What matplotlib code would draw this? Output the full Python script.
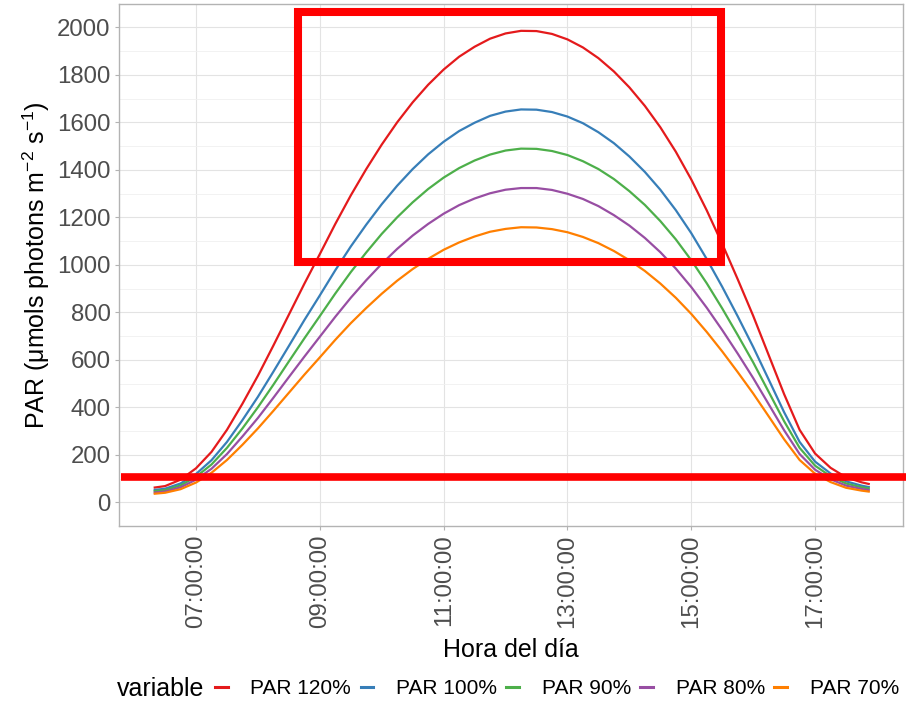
import matplotlib
matplotlib.use("Agg")
import matplotlib.pyplot as plt
from matplotlib.patches import Rectangle
from matplotlib.ticker import FixedLocator, MultipleLocator

plt.rcParams['font.family'] = ['Liberation Sans', 'DejaVu Sans']
plt.rcParams['mathtext.default'] = 'regular'

# hora del día (HH:MM) y PAR por tratamiento
horas = ["06:20", "06:30", "06:45",
         "07:00", "07:15", "07:30", "07:45", "08:00", "08:15", "08:30", "08:45",
         "09:00", "09:15", "09:30", "09:45", "10:00", "10:15", "10:30", "10:45",
         "11:00", "11:15", "11:30", "11:45", "12:00", "12:15", "12:30", "12:45",
         "13:00", "13:15", "13:30", "13:45", "14:00", "14:15", "14:30", "14:45",
         "15:00", "15:15", "15:30", "15:45", "16:00", "16:15", "16:30", "16:45",
         "17:00", "17:15", "17:30", "17:45", "17:52"]

par_120 = [62, 68, 95,
           143, 212, 305, 415, 533, 660, 790, 920,
           1045, 1172, 1292, 1403, 1506, 1600, 1684, 1758,
           1822, 1876, 1918, 1952, 1974, 1985, 1984, 1972,
           1949, 1915, 1870, 1814, 1747, 1669, 1579, 1476,
           1359, 1229, 1088, 939, 785, 620, 455, 305,
           205, 145, 105, 84, 77]
par_100 = [52, 57, 79,
           119, 177, 254, 346, 444, 550, 658, 767,
           871, 977, 1077, 1169, 1255, 1333, 1403, 1465,
           1518, 1563, 1598, 1627, 1645, 1654, 1653, 1643,
           1624, 1596, 1558, 1512, 1456, 1391, 1316, 1230,
           1133, 1024, 907, 783, 654, 517, 379, 254,
           171, 121, 88, 70, 64]
par_90 = [47, 51, 71,
          107, 159, 229, 311, 400, 495, 593, 690,
          784, 879, 969, 1052, 1130, 1200, 1263, 1319,
          1367, 1407, 1439, 1464, 1481, 1489, 1488, 1479,
          1462, 1436, 1403, 1361, 1310, 1252, 1184, 1107,
          1019, 922, 816, 704, 589, 465, 341, 229,
          154, 109, 79, 63, 58]
par_80 = [41, 45, 63,
          95, 141, 203, 277, 355, 440, 527, 613,
          697, 781, 861, 935, 1004, 1067, 1123, 1172,
          1215, 1251, 1279, 1301, 1316, 1323, 1323, 1315,
          1299, 1277, 1247, 1209, 1165, 1113, 1053, 984,
          906, 819, 725, 626, 523, 413, 303, 203,
          137, 97, 70, 56, 51]
par_70 = [36, 40, 55,
          83, 124, 178, 242, 311, 385, 461, 537,
          610, 684, 754, 818, 878, 933, 982, 1025,
          1063, 1094, 1119, 1139, 1151, 1158, 1157, 1150,
          1137, 1117, 1091, 1058, 1019, 974, 921, 861,
          793, 717, 635, 548, 458, 362, 265, 178,
          120, 85, 61, 49, 45]

series = [("PAR 120%", par_120, "#E41A1C"),
          ("PAR 100%", par_100, "#377EB8"),
          ("PAR 90%", par_90, "#4DAF4A"),
          ("PAR 80%", par_80, "#984EA3"),
          ("PAR 70%", par_70, "#FF7F00")]

t = [int(h[:2]) + int(h[3:]) / 60 for h in horas]

fig = plt.figure(figsize=(9.06, 7.06), dpi=100)
ax = fig.add_axes([119 / 906, 180 / 706, 784 / 906, 522 / 706])

for nombre, valores, color in series:
    ax.plot(t, valores, color=color, lw=1.6, label=nombre, solid_joinstyle='round')

ax.set_xlim(5.756, 18.42)
ax.set_ylim(-100, 2098)

horas_eje = [7, 9, 11, 13, 15, 17]
ax.xaxis.set_major_locator(FixedLocator(horas_eje))
ax.set_xticklabels(["%02d:00:00" % h for h in horas_eje], rotation=90, va='top')
ax.yaxis.set_major_locator(MultipleLocator(200))
ax.yaxis.set_minor_locator(MultipleLocator(100))

ax.grid(which='major', color='#E3E3E3', lw=0.8)
ax.grid(which='minor', axis='y', color='#F0F0F0', lw=0.6)
ax.set_axisbelow(True)
for s in ax.spines.values():
    s.set_color('#B3B3B3')
    s.set_linewidth(1.0)

ax.tick_params(which='major', length=3, width=0.8, color='#B3B3B3',
               labelsize=17.3, labelcolor='#4D4D4D', pad=3)
ax.tick_params(which='minor', length=0)

ax.set_xlabel("Hora del día", fontsize=18, labelpad=7)
ax.set_ylabel(r"PAR (μmols photons m$^{-2}$ s$^{-1}$)", fontsize=18, labelpad=4)

# recuadro y umbral en rojo
ax.add_patch(Rectangle((8.653, 1010), 15.48 - 8.653, 2064 - 1010, fill=False,
                       edgecolor='#FF0000', lw=5.8, joinstyle='miter', clip_on=False,
                       zorder=5))
ax.plot([0.003, 1.01], [106, 106], color='#FF0000', lw=5.5,
        transform=ax.get_yaxis_transform(), clip_on=False, zorder=5,
        solid_capstyle='butt')

leg = fig.legend(loc='center left', bbox_to_anchor=(215 / 906, 1 - 689 / 706),
                 ncol=5, frameon=False, fontsize=15, handlelength=0.6,
                 handletextpad=1.1, columnspacing=0.45, borderaxespad=0,
                 borderpad=0)
for ln in leg.get_lines():
    ln.set_linewidth(2.2)
fig.text(117 / 906, 1 - 689 / 706, "variable", fontsize=18, va='center', ha='left')

fig.savefig("out.png", dpi=100)
